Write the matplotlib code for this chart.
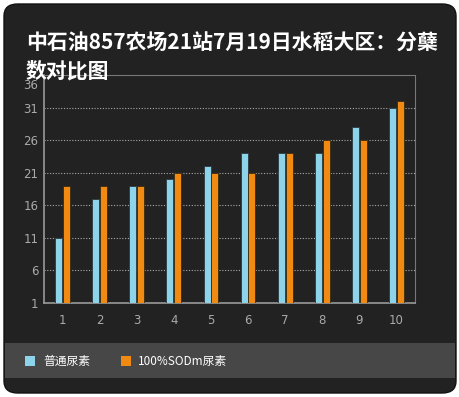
import matplotlib.pyplot as plt
import matplotlib.transforms as mtransforms
from matplotlib.patches import FancyBboxPatch, Rectangle
import numpy as np

plt.rcParams['font.family'] = ['Noto Sans CJK SC', 'DejaVu Sans']

# Data
categories = ['1', '2', '3', '4', '5', '6', '7', '8', '9', '10']
normal_urea = [11, 17, 19, 20, 22, 24, 24, 24, 28, 31]
sodm_urea = [19, 19, 19, 21, 21, 21, 24, 26, 26, 32]
series_names = ['普通尿素', '100%SODm尿素']
y_ticks = [1, 6, 11, 16, 21, 26, 31, 36]

blue = '#8dd3ea'
orange = '#f08a12'
W, H = 460, 397

fig = plt.figure(figsize=(W / 100, H / 100), dpi=100)
fig.patch.set_facecolor('white')

# Dark rounded panel and legend band
panel = FancyBboxPatch((4 / W, 4 / H), 452 / W, 389 / H,
                       boxstyle='round,pad=0,rounding_size=0.03',
                       transform=fig.transFigure, facecolor='#222222',
                       edgecolor='#111111', linewidth=1, zorder=-3)
fig.patches.append(panel)
band = Rectangle((5 / W, (H - 378) / H), 450 / W, 35 / H,
                 transform=fig.transFigure, facecolor='#474747',
                 edgecolor='none', zorder=-2)
fig.patches.append(band)

ax = fig.add_axes([44 / W, (H - 303) / H, 371 / W, 228 / H])
ax.set_facecolor('none')

x = np.arange(len(categories))
bw = 0.19
ax.bar(x - bw / 2 - 0.01, normal_urea, width=bw, bottom=0, color=blue,
       edgecolor='#2a3a40', linewidth=0.6, zorder=3)
ax.bar(x + bw / 2 + 0.01, sodm_urea, width=bw, bottom=0, color=orange,
       edgecolor='#3a2a10', linewidth=0.6, zorder=3)

ax.set_xlim(-0.5, len(categories) - 0.5)
ax.set_ylim(1, 36)
ax.set_yticks(y_ticks)
ax.set_xticks(x)
ax.set_xticklabels(categories)
ax.tick_params(colors='#aaaaaa', labelsize=8.5, length=0, pad=8)
ax.tick_params(axis='y', pad=4)
for lab in ax.get_xticklabels() + ax.get_yticklabels():
    lab.set_family('DejaVu Sans')
# the top label sits a bit below the frame line in the original
top_lab = ax.get_yticklabels()[-1]
top_lab.set_transform(top_lab.get_transform() +
                      mtransforms.ScaledTranslation(0, -9 / 100, fig.dpi_scale_trans))
for y in y_ticks[1:-1]:
    ax.axhline(y, color='#aaaaaa', linestyle=(0, (1, 1.5)), linewidth=0.8, zorder=1)
for side in ['left', 'bottom']:
    ax.spines[side].set_color('#999999')
    ax.spines[side].set_linewidth(1.2)
for side in ['top', 'right']:
    ax.spines[side].set_color('#777777')
    ax.spines[side].set_linewidth(0.8)

# Title
fig.text(26 / W, 1 - 43 / H, '中石油857农场21站7月19日水稻大区：分蘖',
         color='white', fontsize=15, fontweight='bold', va='center', ha='left')
fig.text(26 / W, 1 - 71 / H, '数对比图',
         color='white', fontsize=15, fontweight='bold', va='center', ha='left')

# Legend
leg_y = 1 - 361 / H
fig.patches.append(Rectangle((25 / W, (H - 366) / H), 10 / W, 10 / H,
                             transform=fig.transFigure, facecolor=blue, zorder=2))
fig.text(43 / W, leg_y, series_names[0], color='white', fontsize=8.5, va='center')
fig.patches.append(Rectangle((121 / W, (H - 366) / H), 10 / W, 10 / H,
                             transform=fig.transFigure, facecolor=orange, zorder=2))
fig.text(138 / W, leg_y, series_names[1], color='white', fontsize=8.5, va='center')

fig.savefig('out.png', dpi=100, facecolor=fig.get_facecolor())
